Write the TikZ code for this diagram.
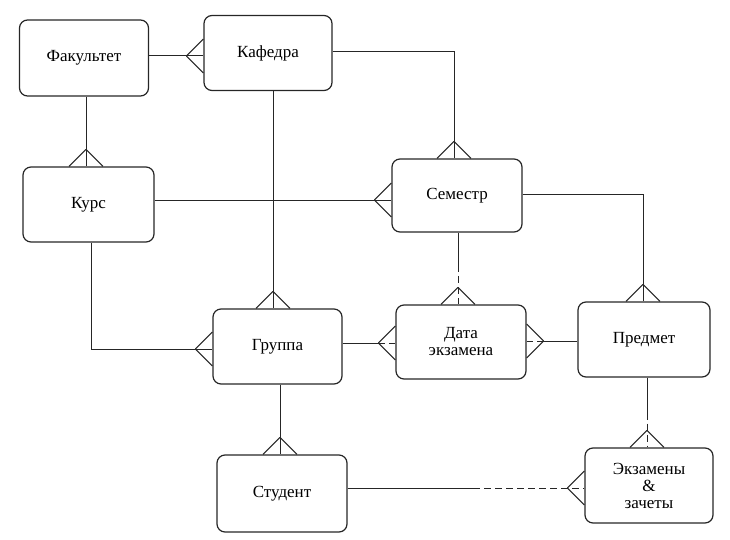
\documentclass[tikz,border=0pt]{standalone}
\usepackage{fontspec}
\setmainfont{Liberation Serif}
\usetikzlibrary{calc}
\begin{document}
\begin{tikzpicture}[x=1pt,y=-1pt,
  ent/.style={draw=black!85,line width=1.2pt,rounded corners=8pt,align=center,
    font=\fontsize{17}{17}\selectfont,inner sep=0pt},
  conn/.style={draw=black!85,line width=1pt},
  opt/.style={conn,dash pattern=on 7pt off 4pt}]
\useasboundingbox (0,0) rectangle (730,540);
\newcommand\crow[2]{\draw[conn] (#2) -- ($(#1)!17pt!90:(#2)$) (#2) -- ($(#1)!17pt!-90:(#2)$);}
% entities
\node[ent,minimum width=129pt,minimum height=76pt] (fak) at (84,58) {Факультет};
\node[ent,minimum width=128pt,minimum height=75pt] (kaf) at (268,53) {Кафедра};
\node[ent,minimum width=131pt,minimum height=75pt] (kurs) at (88.5,204.5) {Курс};
\node[ent,minimum width=130pt,minimum height=73pt] (sem) at (457,195.5) {Семестр};
\node[ent,minimum width=130pt,minimum height=74pt] (data) at (461,342) {Дата\\экзамена};
\node[ent,minimum width=132pt,minimum height=75pt] (pred) at (644,339.5) {Предмет};
\node[ent,minimum width=129pt,minimum height=75pt] (grp) at (277.5,346.5) {Группа};
\node[ent,minimum width=130pt,minimum height=77pt] (stud) at (282,493.5) {Студент};
\node[ent,minimum width=128pt,minimum height=75pt] (ekz) at (649,485.5) {Экзамены\\\&\\зачеты};
% 1 Факультет - Кафедра
\coordinate (e1) at (kaf.west |- 0,56);
\coordinate (a1) at ($(e1)+(-17,0)$);
\draw[conn] (fak.east |- e1) -- (e1);
\crow{e1}{a1}
% 2 Факультет - Курс
\coordinate (e2) at (kurs.north -| 86,0);
\coordinate (a2) at ($(e2)+(0,-17)$);
\draw[conn] (fak.south -| e2) -- (e2);
\crow{e2}{a2}
% 3 Кафедра - Семестр
\coordinate (e3) at (sem.north -| 454,0);
\coordinate (a3) at ($(e3)+(0,-17)$);
\draw[conn] (kaf.east |- 0,52) -| (e3);
\crow{e3}{a3}
% 4 Кафедра - Группа
\coordinate (e4) at (grp.north -| 273,0);
\coordinate (a4) at ($(e4)+(0,-17)$);
\draw[conn] (kaf.south -| e4) -- (e4);
\crow{e4}{a4}
% 5 Курс - Семестр
\coordinate (e5) at (sem.west |- 0,200);
\coordinate (a5) at ($(e5)+(-17,0)$);
\draw[conn] (kurs.east |- e5) -- (e5);
\crow{e5}{a5}
% 6 Курс - Группа
\coordinate (e6) at (grp.west |- 0,349);
\coordinate (a6) at ($(e6)+(-17,0)$);
\draw[conn] (kurs.south -| 91,0) |- (e6);
\crow{e6}{a6}
% 7 Семестр - Дата экзамена
\coordinate (e7) at (data.north -| 458,0);
\coordinate (s7) at (sem.south -| e7);
\coordinate (a7) at ($(e7)+(0,-17)$);
\coordinate (m7) at ($(s7)!0.45!(e7)$);
\draw[conn] (s7) -- (m7);
\draw[opt] (m7) -- (e7);
\crow{e7}{a7}
% 8 Группа - Дата экзамена
\coordinate (e8) at (data.west |- 0,343);
\coordinate (s8) at (grp.east |- e8);
\coordinate (a8) at ($(e8)+(-17,0)$);
\draw[conn] (s8) -- (a8);
\draw[opt] (a8) -- (e8);
\crow{e8}{a8}
% 9 Предмет - Дата экзамена
\coordinate (e9) at (data.east |- 0,341);
\coordinate (s9) at (pred.west |- e9);
\coordinate (a9) at ($(e9)+(17,0)$);
\draw[conn] (s9) -- (a9);
\draw[opt] (a9) -- (e9);
\crow{e9}{a9}
% 10 Семестр - Предмет
\coordinate (e10) at (pred.north -| 643,0);
\coordinate (a10) at ($(e10)+(0,-17)$);
\draw[conn] (sem.east |- 0,194) -| (e10);
\crow{e10}{a10}
% 11 Предмет - Экзамены
\coordinate (e11) at (ekz.north -| 647,0);
\coordinate (s11) at (pred.south -| e11);
\coordinate (a11) at ($(e11)+(0,-17)$);
\coordinate (m11) at ($(s11)!0.5!(e11)$);
\draw[conn] (s11) -- (m11);
\draw[opt] (m11) -- (e11);
\crow{e11}{a11}
% 12 Студент - Экзамены
\coordinate (e12) at (ekz.west |- 0,488);
\coordinate (s12) at (stud.east |- e12);
\coordinate (a12) at ($(e12)+(-17,0)$);
\coordinate (m12) at ($(s12)!0.53!(e12)$);
\draw[conn] (s12) -- (m12);
\draw[opt] (m12) -- (e12);
\crow{e12}{a12}
% 13 Группа - Студент
\coordinate (e13) at (stud.north -| 280,0);
\coordinate (a13) at ($(e13)+(0,-17)$);
\draw[conn] (grp.south -| e13) -- (e13);
\crow{e13}{a13}
\end{tikzpicture}
\end{document}
